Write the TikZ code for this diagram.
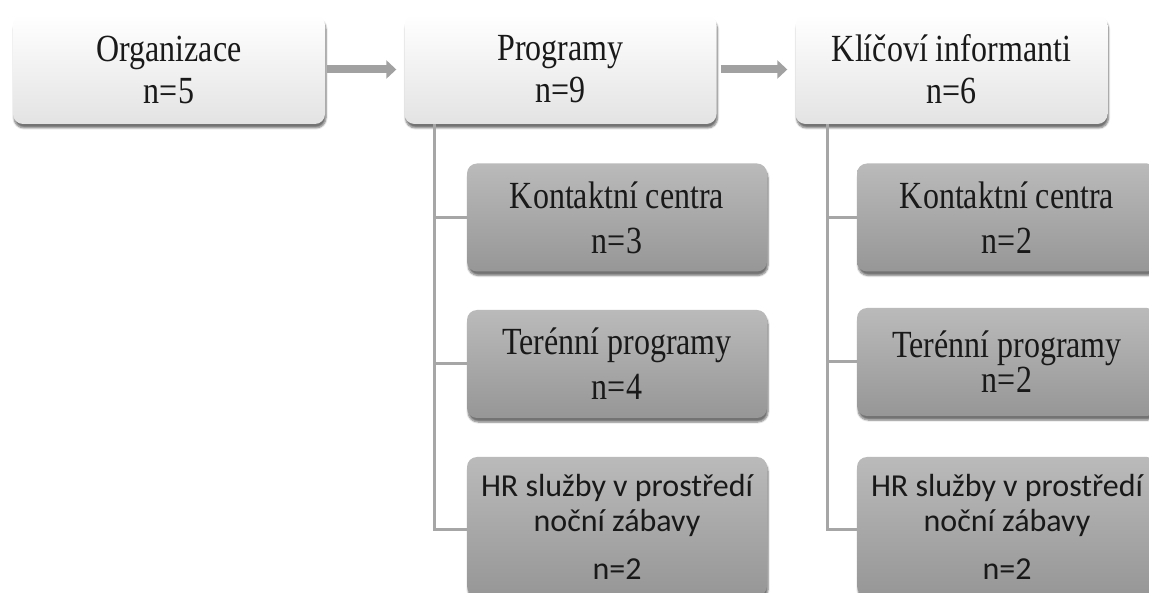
\documentclass[tikz,border=0pt]{standalone}
\usepackage{fontspec}
\setmainfont{Liberation Serif}
\newfontfamily\calibrifont{Carlito}
\usetikzlibrary{arrows.meta,shadows.blur}
% vyšší patkové písmo jako v předloze
\newcommand{\vtext}[1]{\scalebox{1}[1.2]{#1}}
\begin{document}
\begin{tikzpicture}[x=1pt,y=-1pt]
    % Styly uzlů
    \tikzstyle{main}=[rectangle, rounded corners=10pt, top color=white, bottom color=black!11, text=black!90, minimum width=312pt, minimum height=109pt, align=center, font=\fontsize{32}{42}\selectfont, blur shadow={shadow xshift=1pt, shadow yshift=-4pt, shadow blur steps=6, shadow opacity=55}]
    \tikzstyle{sub}=[rectangle, rounded corners=10pt, top color=black!27, bottom color=black!41, text=black!90, minimum width=300pt, minimum height=108pt, align=center, font=\fontsize{32}{45}\selectfont, blur shadow={shadow xshift=1pt, shadow yshift=-4pt, shadow blur steps=6, shadow opacity=55}]
    \tikzstyle{hr}=[minimum height=139pt, font=\calibrifont\fontsize{32}{35}\selectfont]
    \tikzstyle{arrow}=[-{Triangle[length=10pt, width=18pt]}, line width=8pt, black!37]
    \tikzstyle{link}=[line width=3pt, black!35]

    \useasboundingbox (0,0) rectangle (1149,593);

    % Hlavní úrovně
    \node[main] (org) at (169,69.5) {\vtext{Organizace}\\\vtext{n=5}};
    \node[main] (prog) at (560.5,69.5) {\vtext{Programy}\\\vtext{n=9}};
    \node[main] (klic) at (951.5,69.5) {\vtext{Klíčoví informanti}\\\vtext{n=6}};

    % Programy
    \node[sub] (pkc) at (617,217.5) {\vtext{Kontaktní centra}\\\vtext{n=3}};
    \node[sub] (ptp) at (617,364) {\vtext{Terénní programy}\\\vtext{n=4}};
    \node[sub, hr] (phr) at (617,526.5) {HR služby v prostředí\\noční zábavy\\[13pt]n=2};

    % Klíčoví informanti
    \node[sub] (kkc) at (1007,217.5) {\vtext{Kontaktní centra}\\\vtext{n=2}};
    \node[sub, font=\fontsize{32}{31}\selectfont] (ktp) at (1007,362) {\vtext{Terénní programy}\\\vtext{n=2}};
    \node[sub, hr] (khr) at (1007,526.5) {HR služby v prostředí\\noční zábavy\\[13pt]n=2};

    % Šipky
    \draw[arrow, shorten <=2pt, shorten >=8pt] (org) -- (prog);
    \draw[arrow, shorten <=4pt, shorten >=8pt] (prog) -- (klic);

    % Spojnice
    \draw[link] ([xshift=30pt]prog.south west) |- (pkc.west);
    \draw[link] ([xshift=30pt]prog.south west) |- (ptp.west);
    \draw[link] ([xshift=30pt]prog.south west) |- ([yshift=-3pt]phr.west);
    \draw[link] ([xshift=32pt]klic.south west) |- (kkc.west);
    \draw[link] ([xshift=32pt]klic.south west) |- (ktp.west);
    \draw[link] ([xshift=32pt]klic.south west) |- ([yshift=-3pt]khr.west);
\end{tikzpicture}
\end{document}
